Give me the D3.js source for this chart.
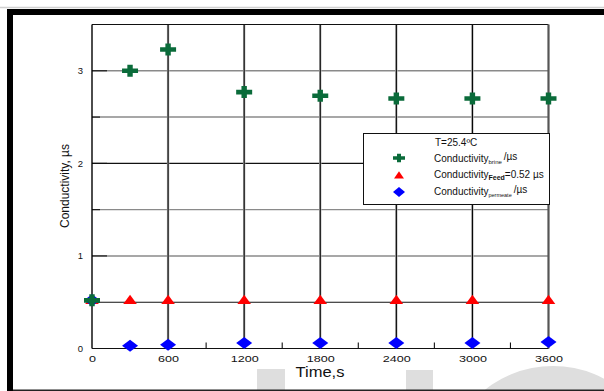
<!DOCTYPE html>
<html>
<head>
<meta charset="utf-8">
<script src="https://cdn.jsdelivr.net/npm/d3@7/dist/d3.min.js"></script>
<style>
  html, body { margin: 0; padding: 0; background: #fff; }
  svg { display: block; font-family: "Liberation Sans", Arial, sans-serif; }
</style>
</head>
<body>
<svg id="chart" width="604" height="391"></svg>
<script>
// Sampling times (s)
const times = [0, 300, 600, 1200, 1800, 2400, 3000, 3600];
// Conductivity readings (µs) for each stream
const brine    = [0.52, 3.00, 3.23, 2.77, 2.73, 2.70, 2.70, 2.70];
const feed     = [0.52, 0.52, 0.52, 0.52, 0.52, 0.52, 0.52, 0.52];
const permeate = [0.52, 0.03, 0.04, 0.06, 0.06, 0.06, 0.06, 0.07];
// Axis ticks
const xTicks = [0, 600, 1200, 1800, 2400, 3000, 3600];
const xMinorTicks = [300, 900, 1500, 2100, 2700, 3300];
const yTicks = [0, 1, 2, 3];
const yGrid = [0.5, 1, 1.5, 2, 2.5, 3];

const svg = d3.select("#chart");

const x = d3.scaleLinear().domain([0, 3600]).range([92, 548.5]);
const y = d3.scaleLinear().domain([0, 3.5]).range([348.5, 24.5]);

// ---- background decorations ----
svg.append("line").attr("x1", 0).attr("x2", 604).attr("y1", 7.5).attr("y2", 7.5)
  .attr("stroke", "#d0d0d0").attr("stroke-width", 1.5);
const wm = svg.append("g").attr("fill", "#dedede");
wm.append("rect").attr("x", 257).attr("y", 369).attr("width", 28).attr("height", 22);
wm.append("rect").attr("x", 406).attr("y", 370).attr("width", 27).attr("height", 21);
wm.append("circle").attr("cx", 553).attr("cy", 475).attr("r", 109);

svg.append("rect").attr("x", 7).attr("y", 9).attr("width", 597).attr("height", 6).attr("fill", "#000");
svg.append("rect").attr("x", 7).attr("y", 9).attr("width", 6).attr("height", 382).attr("fill", "#000");
svg.append("line").attr("x1", 13).attr("x2", 604).attr("y1", 390.2).attr("y2", 390.2)
  .attr("stroke", "#222").attr("stroke-width", 1.5);

// ---- grid ----
const grid = svg.append("g");
grid.selectAll("line.h").data(yGrid).join("line").attr("class", "h")
  .attr("x1", x(0)).attr("x2", x(3600))
  .attr("y1", d => y(d)).attr("y2", d => y(d))
  .attr("stroke", d => (d === 2 || d === 0.5) ? "#111" : "#8a8a8a")
  .attr("stroke-width", d => (d === 2 || d === 0.5) ? 1.1 : 1.4);
// inward tick marks on the value axis
grid.selectAll("line.yt").data(yGrid).join("line").attr("class", "yt")
  .attr("x1", x(0)).attr("x2", d => Number.isInteger(d) ? x(0) + 15 : x(0) + 8)
  .attr("y1", d => y(d)).attr("y2", d => y(d))
  .attr("stroke", "#111").attr("stroke-width", 1.1);
grid.selectAll("line.v").data(xTicks.filter(d => d > 0 && d < 3600)).join("line").attr("class", "v")
  .attr("x1", d => x(d)).attr("x2", d => x(d))
  .attr("y1", y(3.5)).attr("y2", y(0))
  .attr("stroke", "#b8b8b8").attr("stroke-width", 2.4);
grid.selectAll("line.v2").data(xTicks.filter(d => d > 0 && d < 3600)).join("line").attr("class", "v2")
  .attr("x1", d => x(d)).attr("x2", d => x(d))
  .attr("y1", y(3.5)).attr("y2", y(0))
  .attr("stroke", "#000").attr("stroke-width", 1.1);
// frame of the plot area
grid.append("line").attr("x1", x(0)).attr("x2", x(3600)).attr("y1", y(3.5)).attr("y2", y(3.5))
  .attr("stroke", "#111").attr("stroke-width", 1.2);
grid.append("line").attr("x1", x(3600)).attr("x2", x(3600)).attr("y1", y(3.5)).attr("y2", y(0))
  .attr("stroke", "#555").attr("stroke-width", 2.2);
grid.append("line").attr("x1", x(0)).attr("x2", x(0)).attr("y1", y(3.5)).attr("y2", y(0))
  .attr("stroke", "#000").attr("stroke-width", 1.4);
grid.append("line").attr("x1", x(0)).attr("x2", x(3600)).attr("y1", y(0)).attr("y2", y(0))
  .attr("stroke", "#111").attr("stroke-width", 1.2);
grid.selectAll("line.mt").data(xMinorTicks).join("line").attr("class", "mt")
  .attr("x1", d => x(d)).attr("x2", d => x(d))
  .attr("y1", y(0)).attr("y2", y(0) - 6)
  .attr("stroke", "#111").attr("stroke-width", 1.1);

// ---- axes (labels only) ----
const xAxis = svg.append("g").attr("transform", `translate(0,${y(0)})`)
  .call(d3.axisBottom(x).tickValues(xTicks).tickSize(0).tickPadding(7).tickFormat(d3.format("d")));
xAxis.select(".domain").remove();
xAxis.selectAll("text").attr("font-size", 9).attr("fill", "#111")
  .attr("font-family", "Liberation Sans, Arial, sans-serif")
  .attr("transform", "scale(1.4,1)");

const yAxis = svg.append("g").attr("transform", `translate(${x(0)},0)`)
  .call(d3.axisLeft(y).tickValues(yTicks).tickSize(0).tickPadding(9).tickFormat(d3.format("d")));
yAxis.select(".domain").remove();
yAxis.selectAll("text").attr("font-size", 9.5).attr("fill", "#111")
  .attr("font-family", "Liberation Sans, Arial, sans-serif");

svg.append("text").attr("x", 320).attr("y", 377).attr("text-anchor", "middle")
  .attr("font-size", 14).attr("fill", "#111")
  .attr("transform", "translate(320,0) scale(1.18,1) translate(-320,0)")
  .text("Time,s");
svg.append("text").attr("transform", "translate(69,186) rotate(-90)")
  .attr("text-anchor", "middle").attr("font-size", 12).attr("fill", "#111")
  .text("Conductivity, µs");

// ---- marker shapes ----
function crossPath(hw, hh, th, tv) {
  return `M${-hw},${-th/2}H${-tv/2}V${-hh}H${tv/2}V${-th/2}H${hw}V${th/2}H${tv/2}V${hh}H${-tv/2}V${th/2}H${-hw}Z`;
}
function triPath(hw, top, bot) {
  return `M0,${-top}L${hw},${bot}L${-hw},${bot}Z`;
}
function diamondPath(hw, hh) {
  return `M0,${-hh}L${hw},0L0,${hh}L${-hw},0Z`;
}
const GREEN = "#0a6b3a", RED = "#ff0000", BLUE = "#0000ff";

const pts = svg.append("g");
pts.selectAll("path.feed").data(times).join("path").attr("class", "feed")
  .attr("transform", (d, i) => `translate(${x(d)},${y(feed[i])})`)
  .attr("d", triPath(6.8, 5.6, 3.6)).attr("fill", RED);
pts.selectAll("path.perm").data(times).join("path").attr("class", "perm")
  .attr("transform", (d, i) => `translate(${x(d)},${y(permeate[i])})`)
  .attr("d", diamondPath(8, 6)).attr("fill", BLUE);
pts.selectAll("path.brine").data(times).join("path").attr("class", "brine")
  .attr("transform", (d, i) => `translate(${x(d)},${y(brine[i])})`)
  .attr("d", crossPath(8, 6, 4.6, 5.4)).attr("fill", GREEN);

// ---- legend ----
const lg = svg.append("g");
lg.append("rect").attr("x", 363.5).attr("y", 133.5).attr("width", 186).attr("height", 71)
  .attr("fill", "#fff").attr("stroke", "#111").attr("stroke-width", 1);
lg.append("text").attr("x", 435).attr("y", 146).attr("font-size", 10).attr("fill", "#111")
  .text("T=25.4ºC");

lg.append("path").attr("transform", "translate(399,158)").attr("d", crossPath(6, 4.3, 3.4, 4)).attr("fill", GREEN);
lg.append("path").attr("transform", "translate(399,175.5)").attr("d", triPath(5, 4.2, 3)).attr("fill", RED);
lg.append("path").attr("transform", "translate(399,192)").attr("d", diamondPath(6, 5)).attr("fill", BLUE);

const t1 = lg.append("text").attr("x", 434).attr("y", 162.3).attr("font-size", 10).attr("fill", "#111");
t1.append("tspan").text("Conductivity");
t1.append("tspan").attr("font-size", 6).attr("dy", 1.5).text("brine");
t1.append("tspan").attr("dy", -3.5).attr("dx", 2).text("/µs");

const t2 = lg.append("text").attr("x", 434).attr("y", 178.3).attr("font-size", 10).attr("fill", "#111");
t2.append("tspan").text("Conductivity");
t2.append("tspan").attr("font-size", 7).attr("font-weight", "bold").attr("dy", 1.4).text("Feed");
t2.append("tspan").attr("dy", -1.4).text("=0.52 µs");

const t3 = lg.append("text").attr("x", 434).attr("y", 195).attr("font-size", 10).attr("fill", "#111");
t3.append("tspan").text("Conductivity");
t3.append("tspan").attr("font-size", 5.5).attr("dy", 1.5).text("permeate");
t3.append("tspan").attr("dy", -4).attr("dx", 2).text("/µs");
</script>
</body>
</html>
